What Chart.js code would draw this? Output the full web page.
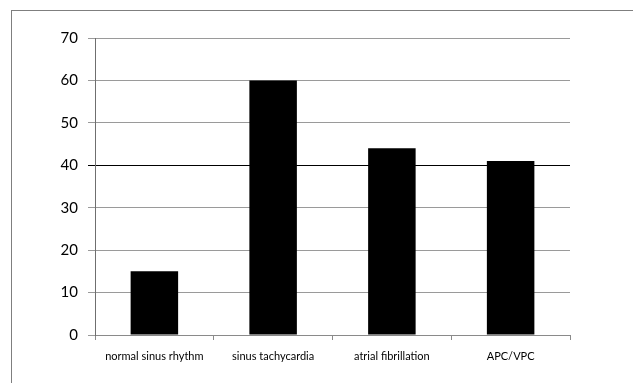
<!DOCTYPE html>
<html>
<head>
<meta charset="utf-8">
<script src="https://cdn.jsdelivr.net/npm/chart.js@4.4.0/dist/chart.umd.min.js"></script>
<style>
    html, body { margin: 0; padding: 0; background: #fff; overflow: hidden; }
    #wrap { position: relative; width: 633px; height: 383px; }
    #frame { position: absolute; left: 11px; top: 10px; width: 640px; height: 400px; border-top: 1px solid #7f7f7f; border-left: 1px solid #7f7f7f; }
    canvas { position: absolute; left: 0; top: 0; }
</style>
</head>
<body>
<div id="wrap">
    <div id="frame"></div>
    <canvas id="mainChart" width="633" height="383"></canvas>
</div>
<script>
// categories and counts
const rhythms = ["normal sinus rhythm", "sinus tachycardia", "atrial fibrillation", "APC/VPC"];
const counts = [15, 60, 44, 41];
const yTicks = [0, 10, 20, 30, 40, 50, 60, 70];

const ctx = document.getElementById("mainChart").getContext("2d");
new Chart(ctx, {
    type: "bar",
    data: {
        labels: rhythms,
        datasets: [{
            data: counts,
            backgroundColor: "#000",
            borderWidth: 0,
            barPercentage: 0.4,
            categoryPercentage: 1,
        }],
    },
    options: {
        responsive: false,
        animation: false,
        layout: { padding: { left: 0, right: 63, top: 38, bottom: 0 } },
        plugins: { legend: { display: false }, tooltip: { enabled: false } },
        scales: {
            x: {
                grid: {
                    offset: true,
                    drawOnChartArea: false,
                    tickLength: 5,
                    color: "#8a8a8a",
                },
                border: { color: "#8a8a8a", width: 1 },
                ticks: {
                    color: "#000",
                    font: { family: "Lato", size: 11 },
                    maxRotation: 0,
                    padding: 10,
                },
                afterFit: (scale) => { scale.height = 48; },
            },
            y: {
                min: 0,
                max: 70,
                afterBuildTicks: (scale) => { scale.ticks = yTicks.map(v => ({ value: v })); },
                grid: {
                    tickLength: 7,
                    color: (c) => c.tick && c.tick.value === 40 ? "#000" : "#9a9a9a",
                },
                border: { color: "#6f6f6f", width: 1 },
                ticks: {
                    color: "#000",
                    font: { family: "Lato", size: 15 },
                    padding: 10,
                },
                afterFit: (scale) => { scale.width = 95; },
            },
        },
    },
});
</script>
</body>
</html>
